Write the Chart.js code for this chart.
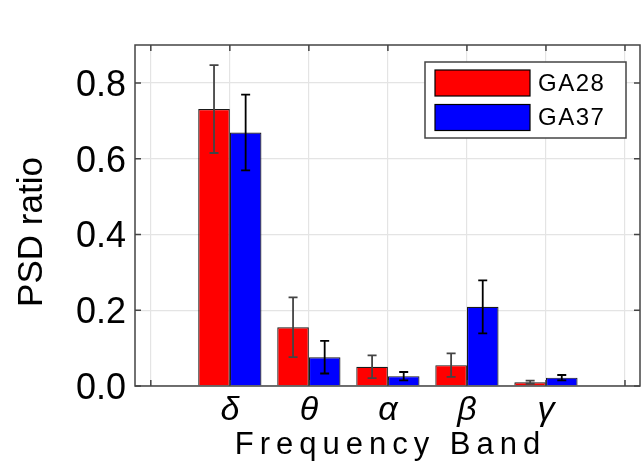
<!DOCTYPE html>
<html>
<head>
<meta charset="utf-8">
<script src="https://cdn.jsdelivr.net/npm/chart.js@4.4.1/dist/chart.umd.min.js"></script>
<style>
  body { margin: 0; background: #fff; }
</style>
</head>
<body>
<canvas id="psdChart" width="643" height="468"></canvas>
<script>
// bands sit at x = 1..5, empty slots at 0 and 6
const bandLabels = ['', 'δ', 'θ', 'α', 'β', 'γ', ''];
const bandPos = [1, 2, 3, 4, 5];
const ga28 = [0.731, 0.155, 0.051, 0.055, 0.010];
const ga28Err = [0.116, 0.079, 0.030, 0.031, 0.004];
const ga37 = [0.669, 0.076, 0.026, 0.209, 0.022];
const ga37Err = [0.100, 0.043, 0.011, 0.070, 0.007];

const errorBars = {
  id: 'errorBars',
  afterDatasetsDraw(chart) {
    const ctx = chart.ctx;
    const yScale = chart.scales.y;
    chart.data.datasets.forEach((ds, i) => {
      const meta = chart.getDatasetMeta(i);
      meta.data.forEach((bar, j) => {
        const v = ds.data[j].y;
        const e = ds.errors[j];
        const top = yScale.getPixelForValue(v + e);
        const bot = yScale.getPixelForValue(v - e);
        ctx.save();
        ctx.strokeStyle = ds.errorColor;
        ctx.lineWidth = 1.8;
        ctx.beginPath();
        ctx.moveTo(bar.x, top); ctx.lineTo(bar.x, bot);
        ctx.moveTo(bar.x - 4.5, top); ctx.lineTo(bar.x + 4.5, top);
        ctx.moveTo(bar.x - 4.5, bot); ctx.lineTo(bar.x + 4.5, bot);
        ctx.stroke();
        ctx.restore();
      });
    });
  }
};

// frame with inward ticks, axis titles and the boxed legend
const frameAndLegend = {
  id: 'frameAndLegend',
  afterDraw(chart) {
    const ctx = chart.ctx;
    const a = chart.chartArea;
    const xs = chart.scales.x, ys = chart.scales.y;
    ctx.save();
    ctx.strokeStyle = '#444';
    ctx.lineWidth = 1.5;
    ctx.strokeRect(a.left, a.top, a.right - a.left, a.bottom - a.top);
    ctx.beginPath();
    ys.ticks.forEach(t => {
      const py = ys.getPixelForValue(t.value);
      ctx.moveTo(a.left, py); ctx.lineTo(a.left + 6, py);
      ctx.moveTo(a.right, py); ctx.lineTo(a.right - 6, py);
    });
    xs.ticks.forEach(t => {
      const px = xs.getPixelForValue(t.value);
      ctx.moveTo(px, a.bottom); ctx.lineTo(px, a.bottom - 6);
      ctx.moveTo(px, a.top); ctx.lineTo(px, a.top + 6);
    });
    ctx.stroke();

    // axis titles
    ctx.fillStyle = '#000';
    ctx.textAlign = 'center';
    ctx.textBaseline = 'alphabetic';
    ctx.font = '31px "Liberation Sans", Arial, sans-serif';
    ctx.letterSpacing = '6px';
    ctx.fillText('Frequency Band', (a.left + a.right) / 2 + 3, 454);
    ctx.letterSpacing = '0px';
    ctx.save();
    ctx.translate(42, 232);
    ctx.rotate(-Math.PI / 2);
    ctx.font = '35px "Liberation Sans", Arial, sans-serif';
    ctx.fillText('PSD ratio', 0, 0);
    ctx.restore();

    // legend
    const lx = 425, ly = 62, lw = 201, lh = 76;
    ctx.fillStyle = '#fff';
    ctx.fillRect(lx, ly, lw, lh);
    ctx.strokeStyle = '#444';
    ctx.lineWidth = 1.5;
    ctx.strokeRect(lx, ly, lw, lh);
    ctx.font = '24px "Liberation Sans", Arial, sans-serif';
    ctx.textAlign = 'left';
    ctx.textBaseline = 'middle';
    ctx.letterSpacing = '1.5px';
    chart.data.datasets.forEach((ds, i) => {
      const by = ly + 8 + i * 34.5;
      ctx.fillStyle = ds.backgroundColor;
      ctx.fillRect(lx + 10, by, 95, 26);
      ctx.strokeStyle = '#000';
      ctx.lineWidth = 1.2;
      ctx.strokeRect(lx + 10, by, 95, 26);
      ctx.fillStyle = '#000';
      ctx.fillText(ds.label, lx + 113, by + 14);
    });
    ctx.restore();
  }
};

new Chart(document.getElementById('psdChart'), {
  type: 'bar',
  data: {
    datasets: [
      {
        label: 'GA28',
        data: bandPos.map((x, i) => ({ x, y: ga28[i] })),
        errors: ga28Err,
        errorColor: '#444',
        backgroundColor: '#ff0000',
        borderColor: '#1a1a1a',
        borderWidth: 1.2
      },
      {
        label: 'GA37',
        data: bandPos.map((x, i) => ({ x, y: ga37[i] })),
        errors: ga37Err,
        errorColor: '#000',
        backgroundColor: '#0000ff',
        borderColor: '#1a1a1a',
        borderWidth: 1.2
      }
    ]
  },
  options: {
    responsive: false,
    animation: false,
    layout: { padding: { top: 45, right: 3, left: 0, bottom: 0 } },
    datasets: { bar: { categoryPercentage: 0.8, barPercentage: 1.0 } },
    plugins: {
      legend: { display: false },
      tooltip: { enabled: false }
    },
    scales: {
      x: {
        type: 'linear',
        offset: false,
        min: -0.2,
        max: 6.19,
        afterBuildTicks: scale => { scale.ticks = bandLabels.map((_, i) => ({ value: i })); },
        afterFit: scale => { scale.height = 82; },
        border: { display: false },
        grid: { color: '#e4e4e4', drawTicks: false, lineWidth: 1.2, offset: false },
        ticks: {
          autoSkip: false,
          maxRotation: 0,
          padding: 4,
          color: '#000',
          font: { family: '"Liberation Sans", Arial, sans-serif', size: 34, style: 'italic' },
          callback: v => bandLabels[v] ?? ''
        }
      },
      y: {
        min: 0,
        max: 0.9,
        afterFit: scale => { scale.width = 135; },
        border: { display: false },
        grid: { color: '#e4e4e4', drawTicks: false, lineWidth: 1.2 },
        ticks: {
          stepSize: 0.1,
          padding: 9,
          labelOffset: 3,
          color: '#000',
          font: { family: '"Liberation Sans", Arial, sans-serif', size: 36 },
          callback: v => (Math.round(v * 10) % 2 === 0 ? v.toFixed(1) : '')
        }
      }
    }
  },
  plugins: [errorBars, frameAndLegend]
});
</script>
</body>
</html>
